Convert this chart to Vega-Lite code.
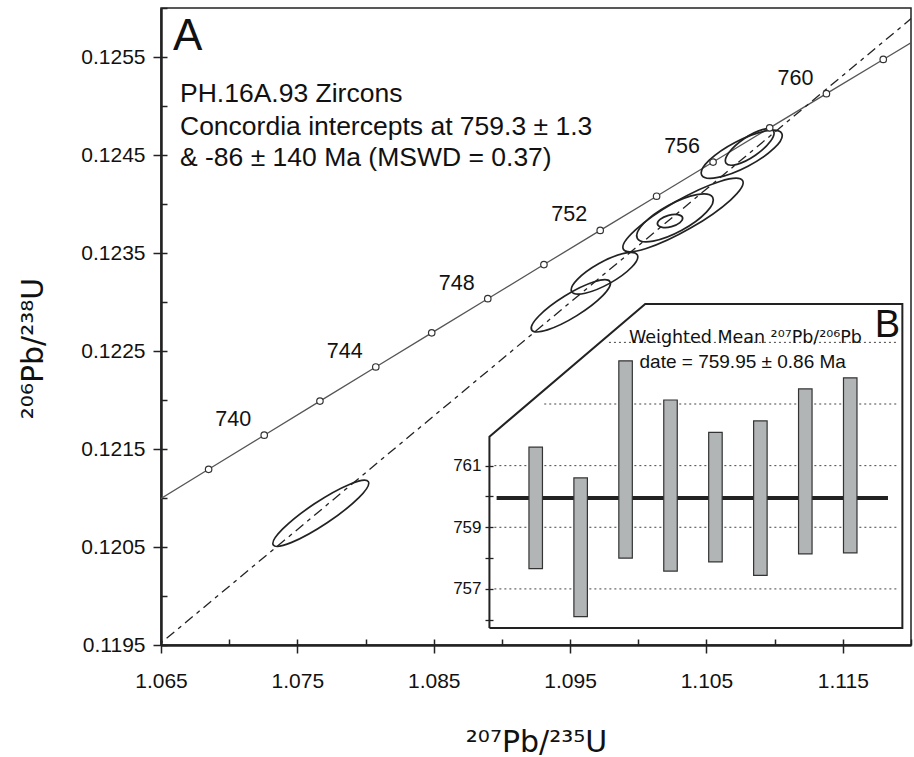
{
  "$schema": "https://vega.github.io/schema/vega-lite/v6.json",
  "width": 750,
  "height": 637,
  "autosize": {"type": "none"},
  "padding": {"left": 161, "top": 8, "right": 3, "bottom": 112},
  "background": "white",
  "config": {
    "font": "Liberation Sans",
    "view": {"stroke": "#222", "strokeWidth": 1.5},
    "axis": {"grid": false, "domainColor": "#222", "tickColor": "#222", "labelColor": "#111", "titleColor": "#111", "titleFontWeight": "normal", "labelFlush": false, "labelOverlap": false, "labelBound": false}
  },
  "datasets": {
    "concordia": [
      {"t": 736, "x": 1.0644206, "y": 0.1209450},
      {"t": 738, "x": 1.0684909, "y": 0.1212928},
      {"t": 740, "x": 1.0725692, "y": 0.1216407},
      {"t": 742, "x": 1.0766556, "y": 0.1219888},
      {"t": 744, "x": 1.0807500, "y": 0.1223369},
      {"t": 746, "x": 1.0848525, "y": 0.1226852},
      {"t": 748, "x": 1.0889631, "y": 0.1230336},
      {"t": 750, "x": 1.0930817, "y": 0.1233820},
      {"t": 752, "x": 1.0972085, "y": 0.1237306},
      {"t": 754, "x": 1.1013435, "y": 0.1240793},
      {"t": 756, "x": 1.1054866, "y": 0.1244281},
      {"t": 758, "x": 1.1096378, "y": 0.1247770},
      {"t": 760, "x": 1.1137973, "y": 0.1251260},
      {"t": 762, "x": 1.1179649, "y": 0.1254751},
      {"t": 764, "x": 1.1221408, "y": 0.1258244},
      {"t": 766, "x": 1.1263249, "y": 0.1261737}
    ],
    "discordia": [
      {"x": 1.06, "y": 0.118941},
      {"x": 1.125, "y": 0.126470}
    ],
    "ellipses": [
      {"id": "E1", "x": 1.076719, "y": 0.120844, "semi": 0.004187, "tilt": 33.7},
      {"id": "E2", "x": 1.095053, "y": 0.122961, "semi": 0.003373, "tilt": 31.7},
      {"id": "E3", "x": 1.097524, "y": 0.123293, "semi": 0.002757, "tilt": 29.2},
      {"id": "E4", "x": 1.103281, "y": 0.123888, "semi": 0.005045, "tilt": 29.9},
      {"id": "E5", "x": 1.102694, "y": 0.123859, "semi": 0.003146, "tilt": 28.5},
      {"id": "E6", "x": 1.102328, "y": 0.123827, "semi": 0.000953, "tilt": 15},
      {"id": "E7", "x": 1.107586, "y": 0.124508, "semi": 0.003307, "tilt": 27.5},
      {"id": "E8", "x": 1.108172, "y": 0.124582, "semi": 0.002105, "tilt": 34.5}
    ],
    "notes": [
      {"x": 1.066393, "y": 0.125044, "text": "PH.16A.93 Zircons"},
      {"x": 1.066393, "y": 0.124704, "text": "Concordia intercepts at 759.3 ± 1.3"},
      {"x": 1.066393, "y": 0.124391, "text": "& -86 ± 140 Ma (MSWD = 0.37)"}
    ],
    "panelA": [{"x": 1.06588, "y": 0.125571, "text": "A"}],
    "bars": [
      {"i": 1, "lo": 757.66, "hi": 761.60},
      {"i": 2, "lo": 756.10, "hi": 760.60},
      {"i": 3, "lo": 758.00, "hi": 764.40},
      {"i": 4, "lo": 757.58, "hi": 763.13},
      {"i": 5, "lo": 757.88, "hi": 762.08},
      {"i": 6, "lo": 757.44, "hi": 762.45},
      {"i": 7, "lo": 758.14, "hi": 763.49},
      {"i": 8, "lo": 758.17, "hi": 763.85}
    ],
    "meanLine": [{"from": 0.13, "to": 8.84, "mean": 759.95}],
    "insetGrid": [
      {"age": 757, "from": 0.08, "to": 9.04},
      {"age": 759, "from": 0.08, "to": 9.04},
      {"age": 761, "from": 0.08, "to": 9.04},
      {"age": 763, "from": 1.19, "to": 9.04},
      {"age": 765, "from": 2.63, "to": 9.04}
    ],
    "insetFrame": [
      {"i": -0.03, "age": 755.73, "k": 0},
      {"i": -0.03, "age": 761.94, "k": 1},
      {"i": 3.437, "age": 766.245, "k": 2},
      {"i": 9.16, "age": 766.245, "k": 3},
      {"i": 9.16, "age": 755.73, "k": 4},
      {"i": -0.03, "age": 755.73, "k": 5}
    ],
    "insetTitle": [{"i": 5.668, "age": 764.97, "text": "Weighted Mean ²⁰⁷Pb/²⁰⁶Pb"}],
    "insetDate": [{"i": 5.607, "age": 764.16, "text": "date = 759.95 ± 0.86 Ma"}],
    "panelB": [{"i": 9.109, "age": 765.165, "text": "B"}]
  },
  "resolve": {"scale": {"x": "independent", "y": "independent"}},
  "layer": [
    {
      "resolve": {"axis": {"x": "independent", "y": "independent"}},
      "layer": [
        {
          "data": {"name": "concordia"},
          "mark": {"type": "line", "clip": true, "stroke": "#555", "strokeWidth": 1.3},
          "encoding": {
            "x": {"field": "x", "type": "quantitative",
              "scale": {"domain": [1.065, 1.12], "nice": false, "zero": false},
              "axis": {"orient": "bottom", "values": [1.065, 1.075, 1.085, 1.095, 1.105, 1.115], "format": ".3f", "tickSize": 8, "tickWidth": 1.5, "labelFontSize": 21, "labelPadding": 17, "domainWidth": 2.5, "title": "²⁰⁷Pb/²³⁵U", "titleFont": "DejaVu Sans", "titleFontSize": 30, "titleY": 106, "titleBaseline": "alphabetic"}},
            "y": {"field": "y", "type": "quantitative",
              "scale": {"domain": [0.1195, 0.126], "nice": false, "zero": false},
              "axis": {"orient": "left", "values": [0.1195, 0.1205, 0.1215, 0.1225, 0.1235, 0.1245, 0.1255], "format": ".4f", "tickSize": 8, "tickWidth": 1.5, "labelFontSize": 21, "labelPadding": 8, "domainWidth": 2.5, "title": "²⁰⁶Pb/²³⁸U", "titleFont": "DejaVu Sans", "titleFontSize": 30, "titleAngle": 270, "titleX": -119, "titleY": 340, "titleAlign": "center", "titleBaseline": "alphabetic"}},
            "order": {"field": "t"}
          }
        },
        {
          "data": {"name": "discordia"},
          "mark": {"type": "line", "clip": true, "stroke": "#222", "strokeWidth": 1.3, "strokeDash": [10, 5, 4, 5]},
          "encoding": {
            "x": {"field": "x", "type": "quantitative",
              "axis": {"orient": "bottom", "offset": -6, "values": [1.065, 1.07, 1.075, 1.08, 1.085, 1.09, 1.095, 1.1, 1.105, 1.11, 1.115, 1.12], "tickSize": 6, "tickWidth": 1.5, "labels": false, "domain": false, "title": null}},
            "y": {"field": "y", "type": "quantitative",
              "axis": {"orient": "left", "offset": -6, "values": [0.1195, 0.12, 0.1205, 0.121, 0.1215, 0.122, 0.1225, 0.123, 0.1235, 0.124, 0.1245, 0.125, 0.1255, 0.126], "tickSize": 6, "tickWidth": 1.5, "labels": false, "domain": false, "title": null}}
          }
        },
        {
          "data": {"name": "ellipses"},
          "mark": {"type": "point", "filled": false, "stroke": "#222", "strokeWidth": 1.7, "opacity": 1},
          "encoding": {
            "x": {"field": "x", "type": "quantitative", "axis": null},
            "y": {"field": "y", "type": "quantitative", "axis": null},
            "size": {"field": "semi", "type": "quantitative", "legend": null,
              "scale": {"type": "pow", "exponent": 2, "domain": [0, 0.01], "range": [0, 74380]}},
            "angle": {"field": "tilt", "type": "quantitative", "legend": null,
              "scale": {"domain": [0, 360], "range": [360, 0]}},
            "shape": {"field": "id", "type": "nominal", "legend": null,
              "scale": {"domain": ["E1", "E2", "E3", "E4", "E5", "E6", "E7", "E8"],
                "range": [
                  "M-1,0C-1,-0.1105 -0.5523,-0.2 0,-0.2C0.5523,-0.2 1,-0.1105 1,0C1,0.1105 0.5523,0.2 0,0.2C-0.5523,0.2 -1,0.1105 -1,0Z",
                  "M-1,0C-1,-0.1381 -0.5523,-0.25 0,-0.25C0.5523,-0.25 1,-0.1381 1,0C1,0.1381 0.5523,0.25 0,0.25C-0.5523,0.25 -1,0.1381 -1,0Z",
                  "M-1,0C-1,-0.1657 -0.5523,-0.3 0,-0.3C0.5523,-0.3 1,-0.1657 1,0C1,0.1657 0.5523,0.3 0,0.3C-0.5523,0.3 -1,0.1657 -1,0Z",
                  "M-1,0C-1,-0.1215 -0.5523,-0.22 0,-0.22C0.5523,-0.22 1,-0.1215 1,0C1,0.1215 0.5523,0.22 0,0.22C-0.5523,0.22 -1,0.1215 -1,0Z",
                  "M-1,0C-1,-0.1823 -0.5523,-0.33 0,-0.33C0.5523,-0.33 1,-0.1823 1,0C1,0.1823 0.5523,0.33 0,0.33C-0.5523,0.33 -1,0.1823 -1,0Z",
                  "M-1,0C-1,-0.2485 -0.5523,-0.45 0,-0.45C0.5523,-0.45 1,-0.2485 1,0C1,0.2485 0.5523,0.45 0,0.45C-0.5523,0.45 -1,0.2485 -1,0Z",
                  "M-1,0C-1,-0.1657 -0.5523,-0.3 0,-0.3C0.5523,-0.3 1,-0.1657 1,0C1,0.1657 0.5523,0.3 0,0.3C-0.5523,0.3 -1,0.1657 -1,0Z",
                  "M-1,0C-1,-0.1933 -0.5523,-0.35 0,-0.35C0.5523,-0.35 1,-0.1933 1,0C1,0.1933 0.5523,0.35 0,0.35C-0.5523,0.35 -1,0.1933 -1,0Z"
                ]}}
          }
        },
        {
          "data": {"name": "concordia"},
          "transform": [{"filter": "datum.t >= 738 && datum.t <= 762"}],
          "mark": {"type": "point", "shape": "circle", "filled": true, "fill": "white", "stroke": "#333", "strokeWidth": 1.2, "size": 42, "opacity": 1},
          "encoding": {
            "x": {"field": "x", "type": "quantitative", "axis": null},
            "y": {"field": "y", "type": "quantitative", "axis": null}
          }
        },
        {
          "data": {"name": "concordia"},
          "transform": [{"filter": "datum.t % 4 == 0 && datum.t >= 740 && datum.t <= 760"}],
          "mark": {"type": "text", "dx": -31, "dy": -15, "fontSize": 21.5, "color": "#111", "align": "center", "baseline": "middle"},
          "encoding": {
            "x": {"field": "x", "type": "quantitative", "axis": null},
            "y": {"field": "y", "type": "quantitative", "axis": null},
            "text": {"field": "t", "type": "quantitative"}
          }
        },
        {
          "data": {"name": "notes"},
          "mark": {"type": "text", "fontSize": 26.5, "color": "#111", "align": "left", "baseline": "alphabetic"},
          "encoding": {
            "x": {"field": "x", "type": "quantitative", "axis": null},
            "y": {"field": "y", "type": "quantitative", "axis": null},
            "text": {"field": "text"}
          }
        },
        {
          "data": {"name": "panelA"},
          "mark": {"type": "text", "fontSize": 44, "color": "#111", "align": "left", "baseline": "alphabetic"},
          "encoding": {
            "x": {"field": "x", "type": "quantitative", "axis": null},
            "y": {"field": "y", "type": "quantitative", "axis": null},
            "text": {"field": "text"}
          }
        }
      ]
    },
    {
      "resolve": {"axis": {"x": "independent", "y": "independent"}},
      "layer": [
        {
          "data": {"name": "insetGrid"},
          "mark": {"type": "rule", "stroke": "#444", "strokeWidth": 1, "strokeDash": [2, 3]},
          "encoding": {
            "x": {"field": "from", "type": "quantitative", "scale": {"domain": [-7.228, 9.241], "nice": false, "zero": false}, "axis": null},
            "x2": {"field": "to"},
            "y": {"field": "age", "type": "quantitative", "scale": {"domain": [755.18, 775.85], "nice": false, "zero": false},
              "axis": {"orient": "left", "offset": -332, "values": [756, 757, 758, 759, 760, 761], "format": "d", "labelExpr": "datum.value % 2 == 1 ? datum.label : ''", "tickSize": 8, "tickWidth": 1.3, "labelFontSize": 17, "labelPadding": 4, "domain": false, "title": null}}
          }
        },
        {
          "data": {"name": "insetFrame"},
          "mark": {"type": "line", "stroke": "#222", "strokeWidth": 2, "strokeJoin": "miter"},
          "encoding": {
            "x": {"field": "i", "type": "quantitative", "axis": null},
            "y": {"field": "age", "type": "quantitative", "axis": null},
            "order": {"field": "k"}
          }
        },
        {
          "data": {"name": "meanLine"},
          "mark": {"type": "rule", "stroke": "#222", "strokeWidth": 4},
          "encoding": {
            "x": {"field": "from", "type": "quantitative", "axis": null},
            "x2": {"field": "to"},
            "y": {"field": "mean", "type": "quantitative", "axis": null}
          }
        },
        {
          "data": {"name": "bars"},
          "mark": {"type": "bar", "size": 13.5, "fill": "#b2b5b6", "stroke": "#333", "strokeWidth": 1.2},
          "encoding": {
            "x": {"field": "i", "type": "quantitative", "axis": null},
            "y": {"field": "lo", "type": "quantitative", "axis": null},
            "y2": {"field": "hi"}
          }
        },
        {
          "data": {"name": "insetTitle"},
          "mark": {"type": "text", "font": "DejaVu Sans", "fontSize": 17.5, "color": "#111", "align": "center", "baseline": "alphabetic"},
          "encoding": {
            "x": {"field": "i", "type": "quantitative", "axis": null},
            "y": {"field": "age", "type": "quantitative", "axis": null},
            "text": {"field": "text"}
          }
        },
        {
          "data": {"name": "insetDate"},
          "mark": {"type": "text", "fontSize": 19, "color": "#111", "align": "center", "baseline": "alphabetic"},
          "encoding": {
            "x": {"field": "i", "type": "quantitative", "axis": null},
            "y": {"field": "age", "type": "quantitative", "axis": null},
            "text": {"field": "text"}
          }
        },
        {
          "data": {"name": "panelB"},
          "mark": {"type": "text", "fontSize": 38, "color": "#111", "align": "right", "baseline": "alphabetic"},
          "encoding": {
            "x": {"field": "i", "type": "quantitative", "axis": null},
            "y": {"field": "age", "type": "quantitative", "axis": null},
            "text": {"field": "text"}
          }
        }
      ]
    }
  ]
}
